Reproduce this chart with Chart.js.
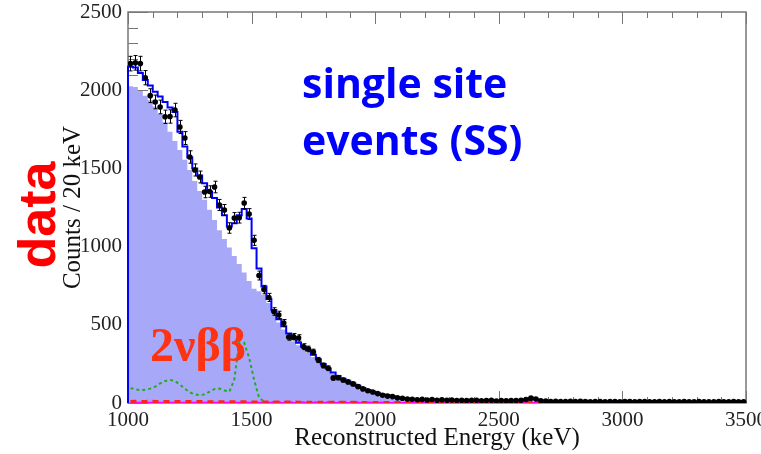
<!DOCTYPE html>
<html>
<head>
<meta charset="utf-8">
<script src="https://cdn.jsdelivr.net/npm/chart.js@4.4.1/dist/chart.umd.min.js"></script>
<style>
    body { margin: 0; background: #fff; }
</style>
</head>
<body>
<canvas id="ssChart" width="761" height="454"></canvas>
<script>
// binning: 20 keV bins from 1000 to 3500 keV (125 bins)
const binStart = 1000;
const binWidth = 20;
const xTicks = [1000, 1500, 2000, 2500, 3000, 3500];
const yTicks = [0, 500, 1000, 1500, 2000, 2500];

// total fit (blue step line)
const totalFit = [
    2150, 2145, 2110, 2065, 2030, 1990, 1960, 1925, 1890, 1860,
    1735, 1640, 1570, 1500, 1455, 1405, 1350, 1310, 1250, 1200,
    1128, 1150, 1200, 1240, 1180, 990, 860, 745, 665, 595,
    535, 490, 445, 410, 385, 360, 335, 308, 280, 250,
    220, 195, 172, 155, 138, 124, 110, 96, 83, 71,
    61, 53, 46, 40, 35, 31, 28, 25, 23, 22,
    21, 20, 20, 19, 19, 18, 18, 18, 17, 17,
    17, 16, 16, 16, 15, 15, 15, 15, 15, 17,
    23, 29, 24, 16, 12, 11, 10, 10, 10, 10,
    10, 10, 10, 9, 9, 9, 9, 9, 9, 9,
    9, 9, 9, 9, 9, 9, 8, 8, 8, 8,
    8, 8, 8, 8, 8, 8, 8, 8, 8, 8,
    8, 8, 8, 8, 8
];

// 2nbb component (filled)
const twoNuBB = [
    2025, 2020, 1995, 1965, 1935, 1895, 1848, 1795, 1735, 1675,
    1618, 1555, 1490, 1420, 1355, 1300, 1235, 1170, 1105, 1048,
    995, 940, 888, 835, 780, 730, 715, 690, 640, 570,
    515, 470, 428, 395, 370, 345, 320, 294, 267, 238,
    209, 185, 163, 146, 130, 116, 103, 89, 77, 66,
    56, 48, 41, 35, 30, 26, 22, 19, 16, 13,
    11, 9, 7, 6, 5, 4, 3, 2, 2, 1,
    1, 1, 0, 0, 0, 0, 0, 0, 0, 0,
    0, 0, 0, 0, 0, 0, 0, 0, 0, 0,
    0, 0, 0, 0, 0, 0, 0, 0, 0, 0,
    0, 0, 0, 0, 0, 0, 0, 0, 0, 0,
    0, 0, 0, 0, 0, 0, 0, 0, 0, 0,
    0, 0, 0, 0, 0
];

// measured counts (black points)
const dataCounts = [
    2170, 2175, 2170, 2080, 1965, 1925, 1893, 1830, 1832, 1873,
    1765, 1694, 1573, 1490, 1445, 1349, 1352, 1381, 1266, 1234,
    1119, 1183, 1185, 1279, 1208, 1040, 815, 725, 675, 585,
    563, 511, 422, 424, 416, 360, 345, 326, 275, 240,
    222, 160, 162, 147, 135, 122, 105, 90, 78, 70,
    60, 50, 44, 41, 33, 30, 25, 24, 21, 23,
    19, 22, 18, 20, 17, 19, 16, 18, 15, 17,
    18, 14, 16, 17, 13, 16, 14, 15, 16, 18,
    22, 31, 25, 14, 12, 10, 11, 9, 10, 11,
    9, 11, 10, 8, 10, 9, 8, 10, 9, 8,
    10, 9, 8, 9, 10, 8, 7, 9, 8, 9,
    7, 8, 9, 8, 7, 9, 8, 7, 8, 9,
    8, 7, 9, 8, 7
];

// green dashed background
const k40Bkg = [
    95, 88, 82, 85, 92, 105, 125, 140, 148, 140,
    118, 92, 68, 55, 50, 55, 72, 90, 92, 80,
    72, 150, 385, 385, 290, 150, 35, 8, 5, 5,
    5, 5, 5, 5, 5, 5, 5, 5, 5, 5,
    4, 4, 4, 4, 4, 4, 4, 3, 3, 3,
    3, 3, 3, 2, 2, 2, 2, 2, 2, 2,
    1, 1, 1, 1, 1, 1, 1, 1, 1, 1,
    1, 1, 1, 1, 1, 1, 1, 1, 1, 1,
    1, 1, 1, 1, 1, 1, 1, 1, 1, 1,
    1, 1, 1, 1, 1, 1, 1, 1, 1, 1,
    1, 1, 1, 1, 1, 1, 1, 1, 1, 1,
    1, 1, 1, 1, 1, 1, 1, 1, 1, 1,
    1, 1, 1, 1, 1
];

// red dashed background
const otherBkg = [
    10, 11, 10, 10, 11, 10, 10, 10, 9, 10,
    9, 9, 10, 9, 9, 9, 8, 9, 8, 8,
    8, 8, 8, 8, 7, 7, 7, 7, 7, 6,
    6, 6, 6, 6, 5, 5, 5, 5, 5, 5,
    4, 4, 4, 4, 4, 4, 4, 3, 3, 3,
    3, 3, 3, 3, 3, 3, 3, 3, 3, 3,
    3, 3, 3, 3, 3, 3, 3, 3, 3, 3,
    3, 3, 3, 3, 3, 3, 3, 3, 3, 4,
    7, 9, 6, 3, 2, 2, 2, 2, 2, 2,
    2, 2, 2, 2, 2, 2, 2, 2, 2, 2,
    2, 2, 2, 2, 2, 2, 2, 2, 2, 2,
    2, 2, 2, 2, 2, 2, 2, 2, 2, 2,
    2, 2, 2, 2, 2
];

// magenta background (near zero)
const flatBkg = [
    3, 3, 3, 3, 3, 3, 3, 3, 3, 3,
    3, 3, 3, 3, 3, 3, 3, 3, 3, 3,
    3, 3, 3, 3, 3, 3, 3, 3, 3, 3,
    2, 2, 2, 2, 2, 2, 2, 2, 2, 2,
    2, 2, 2, 2, 2, 2, 2, 2, 2, 2,
    2, 2, 2, 2, 2, 2, 2, 2, 2, 2,
    2, 2, 2, 2, 2, 2, 2, 2, 2, 2,
    2, 2, 2, 2, 2, 2, 2, 2, 2, 3,
    5, 6, 4, 2, 2, 2, 2, 2, 2, 2,
    2, 2, 2, 2, 2, 2, 2, 2, 2, 2,
    2, 2, 2, 2, 2, 2, 2, 2, 2, 2,
    2, 2, 2, 2, 2, 2, 2, 2, 2, 2,
    2, 2, 2, 2, 2
];

const serif = '"Liberation Serif", "Times New Roman", serif';

function histPoints(values) {
    const pts = [{ x: binStart, y: 0 }];
    values.forEach((v, i) => pts.push({ x: binStart + i * binWidth, y: v }));
    pts.push({ x: binStart + values.length * binWidth, y: values[values.length - 1] });
    return pts;
}

function centerPoints(values) {
    return values.map((v, i) => ({ x: binStart + (i + 0.5) * binWidth, y: v }));
}

// ROOT-like frame with inward ticks
const frameTicks = {
    id: 'frameTicks',
    beforeDatasetsDraw(chart) {
        const { ctx, chartArea: a, scales: { x, y } } = chart;
        ctx.save();
        ctx.strokeStyle = '#777';
        ctx.lineWidth = 1.5;
        ctx.strokeRect(a.left, a.top, a.right - a.left, a.bottom - a.top);
        ctx.lineWidth = 1;
        ctx.beginPath();
        for (let v = xTicks[0]; v <= xTicks[xTicks.length - 1]; v += 100) {
            const px = Math.round(x.getPixelForValue(v)) + 0.5;
            const len = v % 500 === 0 ? 12 : 6;
            ctx.moveTo(px, a.bottom);
            ctx.lineTo(px, a.bottom - len);
            ctx.moveTo(px, a.top);
            ctx.lineTo(px, a.top + len);
        }
        for (let v = yTicks[0]; v <= yTicks[yTicks.length - 1]; v += 100) {
            const py = Math.round(y.getPixelForValue(v)) + 0.5;
            const len = v % 500 === 0 ? 20 : 10;
            ctx.moveTo(a.left, py);
            ctx.lineTo(a.left + len, py);
        }
        ctx.stroke();
        ctx.restore();
    }
};

// sqrt(N) error bars on the data points
const errorBars = {
    id: 'errorBars',
    afterDatasetsDraw(chart) {
        const { ctx, scales: { x, y } } = chart;
        ctx.save();
        ctx.strokeStyle = '#000';
        ctx.lineWidth = 1;
        ctx.beginPath();
        dataCounts.forEach((v, i) => {
            const px = Math.round(x.getPixelForValue(binStart + (i + 0.5) * binWidth)) + 0.5;
            const err = Math.sqrt(v);
            const top = y.getPixelForValue(v + err);
            const bot = y.getPixelForValue(v - err);
            ctx.moveTo(px, top);
            ctx.lineTo(px, bot);
            ctx.moveTo(px - 2, top);
            ctx.lineTo(px + 2, top);
            ctx.moveTo(px - 2, bot);
            ctx.lineTo(px + 2, bot);
        });
        ctx.stroke();
        ctx.restore();
    }
};

// slide annotations
const labels = {
    id: 'labels',
    afterDraw(chart) {
        const ctx = chart.ctx;
        ctx.save();
        ctx.fillStyle = '#ff0000';
        ctx.font = 'bold 52px "Liberation Sans", Arial, sans-serif';
        ctx.textAlign = 'center';
        ctx.textBaseline = 'alphabetic';
        ctx.translate(55, 215);
        ctx.rotate(-Math.PI / 2);
        ctx.fillText('data', 0, 0);
        ctx.restore();

        ctx.save();
        ctx.fillStyle = '#0000ff';
        ctx.font = 'bold 41px "Open Sans", sans-serif';
        ctx.textAlign = 'left';
        ctx.textBaseline = 'alphabetic';
        ctx.fillText('single site', 302, 98);
        ctx.fillText('events (SS)', 302, 155);

        ctx.fillStyle = '#ff3311';
        ctx.font = 'bold 48px ' + serif;
        ctx.fillText('2νββ', 150, 361);
        ctx.restore();
    }
};

new Chart(document.getElementById('ssChart'), {
    type: 'line',
    data: {
        datasets: [
            {
                label: 'data',
                data: centerPoints(dataCounts),
                showLine: false,
                pointRadius: 2.8,
                pointBackgroundColor: '#000',
                pointBorderWidth: 0,
                order: 0
            },
            {
                label: 'total',
                data: histPoints(totalFit),
                stepped: 'before',
                borderColor: '#0000ff',
                borderWidth: 2,
                pointRadius: 0,
                clip: 3,
                order: 1
            },
            {
                label: 'other',
                data: centerPoints(otherBkg),
                borderColor: '#ff2020',
                borderWidth: 3,
                borderDash: [6, 5],
                pointRadius: 0,
                order: 2
            },
            {
                label: 'flat',
                data: centerPoints(flatBkg),
                borderColor: '#ff00ff',
                borderWidth: 1.5,
                pointRadius: 0,
                order: 3
            },
            {
                label: 'K40',
                data: centerPoints(k40Bkg),
                borderColor: '#22aa22',
                borderWidth: 2,
                borderDash: [3, 3],
                pointRadius: 0,
                order: 4
            },
            {
                label: '2nbb',
                data: histPoints(twoNuBB),
                stepped: 'before',
                borderWidth: 0,
                borderColor: 'rgba(0,0,0,0)',
                backgroundColor: 'rgb(168,168,248)',
                fill: 'origin',
                pointRadius: 0,
                order: 5
            }
        ]
    },
    options: {
        responsive: false,
        animation: false,
        devicePixelRatio: 1,
        layout: { padding: { left: 0, right: 15, top: 12, bottom: 0 } },
        plugins: {
            legend: { display: false },
            tooltip: { enabled: false }
        },
        scales: {
            x: {
                type: 'linear',
                min: xTicks[0],
                max: xTicks[xTicks.length - 1],
                afterBuildTicks: s => { s.ticks = xTicks.map(v => ({ value: v })); },
                afterFit: s => { s.height = 51; s.paddingLeft = 0; s.paddingRight = 0; },
                grid: { display: false, drawTicks: false },
                border: { display: false },
                ticks: {
                    font: { family: serif, size: 21 },
                    color: '#222',
                    padding: 5,
                    maxRotation: 0,
                    callback: v => String(v)
                },
                title: {
                    display: true,
                    text: 'Reconstructed Energy (keV)',
                    font: { family: serif, size: 25 },
                    color: '#111',
                    padding: { top: 0, bottom: 1 }
                }
            },
            y: {
                min: yTicks[0],
                max: yTicks[yTicks.length - 1],
                afterBuildTicks: s => { s.ticks = yTicks.map(v => ({ value: v })); },
                afterFit: s => { s.width = 128; s.paddingTop = 0; s.paddingBottom = 0; },
                grid: { display: false, drawTicks: false },
                border: { display: false },
                ticks: {
                    font: { family: serif, size: 21 },
                    color: '#222',
                    padding: 6,
                    callback: v => String(v)
                },
                title: {
                    display: true,
                    text: 'Counts / 20 keV',
                    font: { family: serif, size: 25 },
                    color: '#111',
                    padding: { top: 58, bottom: 0 }
                }
            }
        }
    },
    plugins: [frameTicks, errorBars, labels]
});
</script>
</body>
</html>
